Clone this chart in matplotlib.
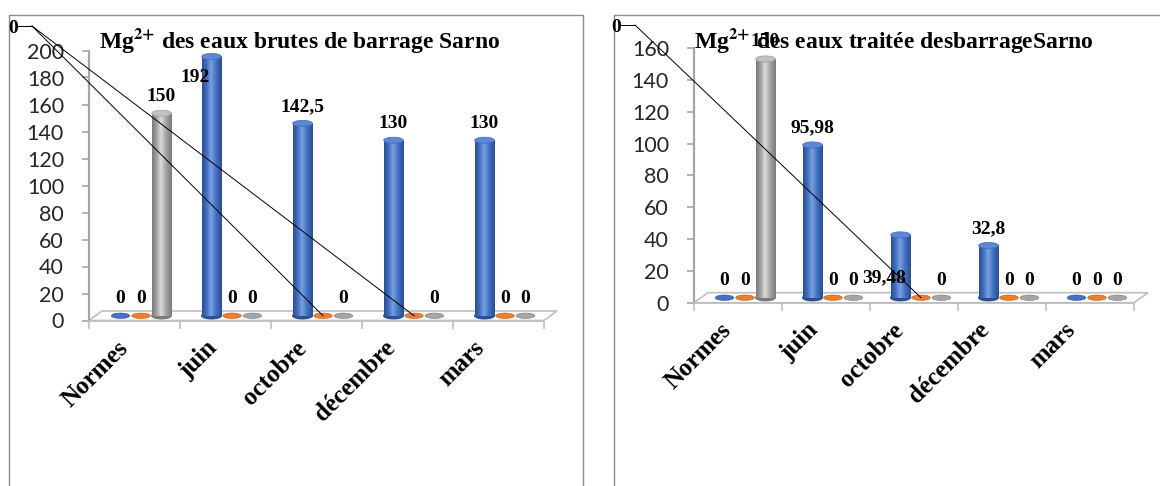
import numpy as np
import matplotlib
matplotlib.use("Agg")
import matplotlib.pyplot as plt
from matplotlib.colors import LinearSegmentedColormap
from matplotlib.patches import Ellipse, Polygon
from matplotlib.lines import Line2D
from matplotlib.transforms import IdentityTransform

months = ["Normes", "juin", "octobre", "décembre", "mars"]

# Mg2+ des eaux brutes (3 series per month)
brute_s1 = [0, 192, 142.5, 130, 130]
brute_s2 = [0, 0, 0, 0, 0]
brute_s3 = [150, 0, 0, 0, 0]

# Mg2+ des eaux traitées
traitee_s1 = [0, 95.98, 39.48, 32.8, 0]
traitee_s2 = [0, 0, 0, 0, 0]
traitee_s3 = [150, 0, 0, 0, 0]

brute_ticks = list(range(0, 201, 20))
traitee_ticks = list(range(0, 161, 20))

W, H = 1160, 486
SERIF = "Liberation Serif"
plt.rcParams["mathtext.fontset"] = "stix"

# dark edge, body, highlight, top face
palette = [
    ("#2b4f92", "#4472c4", "#7ba0e2", "#5f88d4"),
    ("#b85a1a", "#ed7d31", "#f6a870", "#f09050"),
    ("#7a7a7a", "#a5a5a5", "#dedede", "#c2c2c2"),
]

fig = plt.figure(figsize=(W / 100, H / 100), dpi=100)


def px(x, y):
    # pixel from top-left -> display coords
    return x, H - y


def fig_line(pts, **kw):
    xs, ys = zip(*[px(*p) for p in pts])
    fig.add_artist(Line2D(xs, ys, transform=IdentityTransform(), **kw))


def px_to_data(ax, dxp, dyp):
    x0, y0 = ax.transData.transform((0, 0))
    return ax.transData.inverted().transform((x0 + dxp, y0 + dyp))


def fmt(v):
    return f"{v:g}".replace(".", ",")


def cylinder(ax, xc, y0, h, w, eh, colors):
    dark, mid, light, top = colors
    if h > 0:
        cmap = LinearSegmentedColormap.from_list(
            "cyl", [(0, dark), (0.25, mid), (0.45, light), (0.7, mid), (1, dark)])
        ax.add_patch(Ellipse((xc, y0), w, eh, color=dark, zorder=3))
        grad = np.linspace(0, 1, 64).reshape(1, -1)
        ax.imshow(grad, cmap=cmap, extent=(xc - w / 2, xc + w / 2, y0, y0 + h),
                  aspect="auto", zorder=3, interpolation="bilinear")
        ax.add_patch(Ellipse((xc, y0 + h), w, eh, facecolor=top,
                             edgecolor=mid, lw=0.6, zorder=4))
    else:
        ax.add_patch(Ellipse((xc, y0), w * 0.95, eh * 0.9, facecolor=mid,
                             edgecolor=dark, lw=0.4, zorder=3))


def panel(rect, ymax, ticks, series, title, title_c, depth,
          corner, moved, shifted):
    ax = fig.add_axes(rect)
    ax.set_xlim(-0.5, 4.5)
    ax.set_ylim(0, ymax)
    ax.patch.set_visible(False)
    for s in ("top", "right"):
        ax.spines[s].set_visible(False)
    ax.spines["left"].set_color("#a6a6a6")
    ax.spines["left"].set_linewidth(1.6)
    ax.spines["bottom"].set_color("#bfbfbf")
    ax.spines["bottom"].set_linewidth(1.2)
    ax.set_yticks(ticks)
    ax.tick_params(axis="y", length=5, width=1.2, color="#a6a6a6", pad=13,
                   labelsize=15.5, labelcolor="#262626")
    for t in ax.get_yticklabels():
        t.set_family("Lato")
    ax.set_xticks(np.arange(-0.5, 5, 1))
    ax.set_xticklabels([])
    ax.tick_params(axis="x", length=6, width=1.2, color="#bfbfbf")

    # floor of the 3-D plot
    dxd, dyd = px_to_data(ax, depth[0], depth[1])
    ax.add_patch(Polygon([(-0.5, 0), (4.5, 0), (4.5 + dxd, dyd), (-0.5 + dxd, dyd)],
                         closed=True, facecolor="white", edgecolor="#bfbfbf",
                         lw=1.2, zorder=1, clip_on=False))

    sp = px_to_data(ax, 20.5, 0)[0]
    bw = px_to_data(ax, 19.5, 0)[0]
    eh = px_to_data(ax, 0, 6)[1]
    base = dyd / 2

    for s, vals in enumerate(series):
        for i, v in enumerate(vals):
            xc = i + (s - 1) * sp + dxd / 2
            cylinder(ax, xc, base, v, bw, eh, palette[s])
            if (s, i) in moved:
                tx, ty = ax.transData.transform((xc, base))
                fig_line([(corner[0] + 5, corner[1] - 2), (corner[0] + 19, corner[1] - 2)],
                         color="black", lw=0.7)
                fig.add_artist(Line2D([corner[0] + 19, tx], [H - corner[1] + 2, ty],
                                      transform=IdentityTransform(),
                                      color="black", lw=0.7))
                continue
            ox, oy = shifted.get((s, i), (0, 0))
            ax.annotate(fmt(v), (xc, base + v), xytext=(ox, 17 - oy),
                        textcoords="offset pixels", ha="center", va="center",
                        family=SERIF, weight="bold", fontsize=14,
                        zorder=6, annotation_clip=False)

    if moved:
        fig.text(*px(*corner), "0", transform=IdentityTransform(), ha="center",
                 va="center", family=SERIF, weight="bold", fontsize=14)

    for i, m in enumerate(months):
        ax.annotate(m, (i, 0), xytext=(-10 - 2 * i, -24), textcoords="offset pixels",
                    rotation=45, rotation_mode="anchor", ha="right", va="center",
                    family=SERIF, weight="bold", fontsize=18,
                    annotation_clip=False)

    fig.text(*px(*title_c), title, transform=IdentityTransform(), ha="center",
             va="center", family=SERIF, weight="bold", fontsize=17)

    ax.set_xlim(-0.5, 4.5)
    ax.set_ylim(0, ymax)
    return ax


panel([89 / W, 1 - 320.5 / H, 455 / W, 270 / H], 200, brute_ticks,
      [brute_s1, brute_s2, brute_s3],
      "Mg$^{\\mathbf{2{+}}}$ des eaux brutes de barrage Sarno", (300, 40),
      (13, 9.5), (13, 28), {(1, 2), (1, 3)}, {(0, 1): (-16, 38)})

panel([694 / W, 1 - 302.7 / H, 440 / W, 254.7 / H], 160, traitee_ticks,
      [traitee_s1, traitee_s2, traitee_s3],
      "Mg$^{\\mathbf{2{+}}}$ des eaux traitée desbarrageSarno", (894, 40),
      (14, 10), (616, 27), {(1, 2)}, {(0, 2): (-16, 60)})

# chart frames
fig_line([(9, 486), (9, 15), (583, 15), (583, 486)], color="#8c8c8c", lw=1.0)
fig_line([(614, 486), (614, 15), (1160, 15)], color="#8c8c8c", lw=1.0)

fig.savefig("out.png", dpi=100)
